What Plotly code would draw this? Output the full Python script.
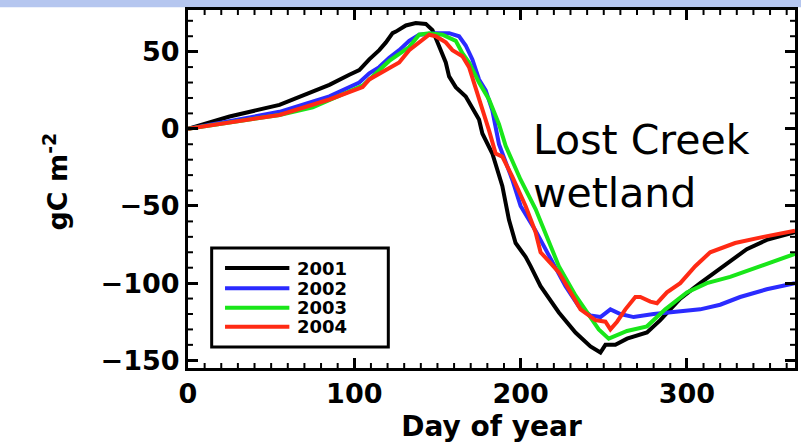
import plotly.graph_objects as go

# Cumulative net ecosystem exchange, Lost Creek wetland (gC m^-2) by day of year
years = ["2001", "2002", "2003", "2004"]
colors = ["#000000", "#2b2bff", "#19e619", "#ff2a14"]

day_2001 = [0, 25, 55, 85, 97, 103, 109, 115, 119, 123, 125, 131, 137, 143, 147, 151, 155, 157, 161,
            167, 171, 175, 177, 183, 189, 193, 197, 203, 206, 212, 223, 233, 242, 248, 251, 257, 264,
            276, 284, 296, 308, 322, 336, 348, 365]
nee_2001 = [0, 8, 15.5, 28.5, 35, 38, 45, 51, 56, 62, 63, 67, 68.5, 68, 64, 53, 43, 34, 27,
            21, 14, 6, -3, -16, -37, -59, -74, -83, -89, -102, -119, -132, -141, -145, -140, -140, -136,
            -132, -124, -110, -100, -89, -78, -72, -67]

day_2002 = [0, 25, 55, 85, 103, 109, 115, 121, 127, 133, 139, 149, 157, 163, 167, 171, 175, 179, 183,
            187, 195, 200, 209, 217, 227, 235, 242, 248, 254, 260, 268, 280, 296, 308, 320, 332, 348, 365]
nee_2002 = [0, 5, 11, 21, 30, 36, 40, 46, 51, 57, 61, 62, 62, 60, 54, 45, 32, 25, 12,
            -10, -33, -50, -66, -82, -102, -115, -121, -122, -117, -120, -122, -120, -118, -117, -114,
            -109, -104, -100]

day_2003 = [0, 25, 55, 75, 97, 105, 115, 121, 133, 139, 145, 153, 161, 165, 169, 175, 181, 187, 191,
            200, 209, 218, 223, 233, 241, 247, 253, 257, 264, 276, 287, 300, 312, 326, 344, 365]
nee_2003 = [0, 4, 9, 14, 24, 28, 38, 44, 53, 61, 62, 61, 57, 49, 43, 30, 19, 3, -11,
            -33, -52, -76, -89, -108, -121, -130, -136, -134, -131, -128, -117, -106, -100, -96, -89, -81]

day_2004 = [0, 25, 55, 85, 97, 105, 109, 119, 127, 133, 141, 145, 149, 155, 159, 165, 169, 173, 177,
            181, 185, 189, 195, 203, 209, 212, 218, 223, 229, 236, 245, 251, 254, 258, 263, 269, 272,
            278, 282, 288, 296, 305, 314, 329, 346, 365]
nee_2004 = [0, 4, 9, 19, 24, 27, 32, 38, 43, 51, 58, 61, 60, 56, 51, 47, 40, 27, 14,
            -1, -16, -18, -31, -50, -67, -80, -87, -93, -104, -117, -124, -125, -130, -125, -117, -109, -109,
            -112, -113, -106, -100, -89, -80, -74, -70, -66]

series = [(day_2001, nee_2001), (day_2002, nee_2002), (day_2003, nee_2003), (day_2004, nee_2004)]

x_ticks = [0, 100, 200, 300]
y_ticks = [-150, -100, -50, 0, 50]
x_minor = list(range(10, 366, 10))
y_minor = list(range(-150, 77, 10))
x_range = [0, 365]
y_range = [-155, 77]

BOLD = dict(family="DejaVu Sans", color="black", weight="bold")

fig = go.Figure()
for (d, v), yr, c in zip(series, years, colors):
    fig.add_trace(go.Scatter(x=d, y=v, mode="lines", name=yr,
                             line=dict(color=c, width=4), showlegend=False))

axis_common = dict(
    showline=True, linecolor="black", linewidth=3, mirror="allticks",
    ticks="inside", ticklen=10, tickwidth=3, tickcolor="black",
    showgrid=False, zeroline=False,
    tickfont=dict(size=27, **BOLD),
)

fig.update_xaxes(range=x_range, tickvals=x_ticks,
                 title=dict(text="Day of year", font=dict(size=28, **BOLD), standoff=8),
                 **axis_common)
fig.update_yaxes(range=y_range, tickvals=y_ticks, ticksuffix=" ", **axis_common)

shapes = []
annotations = []

# minor ticks every 10 units on all four sides, placed through the axis scales
minor_line = dict(color="black", width=2)
tx = 5 / 610   # 5 px tick length as a fraction of plot width
ty = 5 / 358   # 5 px tick length as a fraction of plot height
for xv in x_minor:
    shapes.append(dict(type="line", xref="x", yref="paper", x0=xv, x1=xv, y0=0, y1=ty, line=minor_line))
    shapes.append(dict(type="line", xref="x", yref="paper", x0=xv, x1=xv, y0=1 - ty, y1=1, line=minor_line))
for yv in y_minor:
    shapes.append(dict(type="line", xref="paper", yref="y", x0=0, x1=tx, y0=yv, y1=yv, line=minor_line))
    shapes.append(dict(type="line", xref="paper", yref="y", x0=1 - tx, x1=1, y0=yv, y1=yv, line=minor_line))

# light band across the top edge
shapes.append(dict(type="rect", xref="paper", yref="paper", x0=-0.31, x1=1.01,
                   y0=1.008, y1=1.03, fillcolor="#b5c6ef", line=dict(width=0), layer="below"))

# legend box
shapes.append(dict(type="rect", xref="paper", yref="paper", x0=0.039, x1=0.330,
                   y0=0.059, y1=0.335, line=dict(color="black", width=3), fillcolor="white"))
leg_y = [0.279, 0.223, 0.168, 0.115]
for yr, c, ly in zip(years, colors, leg_y):
    shapes.append(dict(type="line", xref="paper", yref="paper", x0=0.061, x1=0.167,
                       y0=ly, y1=ly, line=dict(color=c, width=4)))
    annotations.append(dict(text=yr, xref="paper", yref="paper", x=0.177, y=ly,
                            xanchor="left", yanchor="middle", showarrow=False,
                            font=dict(size=18, **BOLD)))

# y-axis title
annotations.append(dict(text="gC m<sup>-2</sup>", xref="paper", yref="paper", x=-0.218, y=0.52,
                        textangle=-90, showarrow=False, xanchor="center", yanchor="middle",
                        font=dict(size=27, **BOLD)))

# site label
annotations.append(dict(text="Lost Creek<br>wetland", xref="paper", yref="paper", x=0.565, y=0.564,
                        xanchor="left", yanchor="middle", align="left", showarrow=False,
                        font=dict(family="DejaVu Sans", size=41, color="black")))

fig.update_layout(
    width=801, height=446,
    margin=dict(l=188, r=3, t=10, b=78),
    paper_bgcolor="white", plot_bgcolor="white",
    shapes=shapes, annotations=annotations,
    showlegend=False,
)

fig.write_html("out.html")
